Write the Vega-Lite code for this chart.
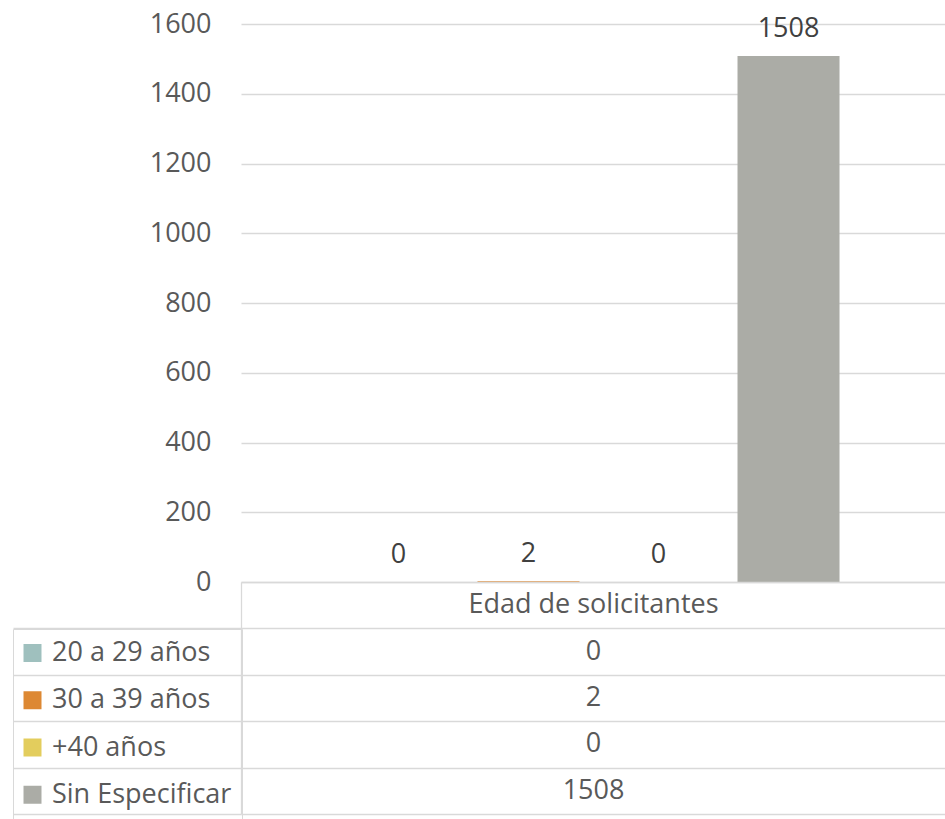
{
  "$schema": "https://vega.github.io/schema/vega-lite/v6.json",
  "autosize": {"type": "pad"},
  "padding": {"left": 12, "top": 10, "right": 0, "bottom": 0},
  "background": "white",
  "config": {"font": "Open Sans", "view": {"stroke": null}},
  "bounds": "flush",
  "spacing": 0,
  "data": {"values": [
    {"categoria": "Edad de solicitantes", "serie": "20 a 29 años", "valor": 0},
    {"categoria": "Edad de solicitantes", "serie": "30 a 39 años", "valor": 2},
    {"categoria": "Edad de solicitantes", "serie": "+40 años", "valor": 0},
    {"categoria": "Edad de solicitantes", "serie": "Sin Especificar", "valor": 1508}
  ]},
  "vconcat": [
    {
      "width": 705,
      "height": 558,
      "encoding": {
        "x": {"field": "serie", "type": "nominal", "sort": ["20 a 29 años", "30 a 39 años", "+40 años", "Sin Especificar"], "scale": {"paddingInner": 0.2154, "paddingOuter": 0.819}, "axis": null},
        "y": {"field": "valor", "type": "quantitative", "scale": {"domain": [0, 1600], "nice": false},
          "axis": {"values": [0, 200, 400, 600, 800, 1000, 1200, 1400, 1600], "format": "d", "grid": true, "gridColor": "#d9d9d9", "gridWidth": 1.3, "domain": false, "ticks": false, "labelFontSize": 27, "labelColor": "#595959", "labelPadding": 30, "title": null}}
      },
      "layer": [
        {
          "mark": {"type": "bar"},
          "encoding": {
            "color": {"field": "serie", "type": "nominal",
              "scale": {"domain": ["20 a 29 años", "30 a 39 años", "+40 años", "Sin Especificar"], "range": ["#9fc0be", "#dd8833", "#e3cd5d", "#abaca6"]},
              "legend": {"orient": "none", "legendX": -228, "legendY": 605, "title": null, "symbolType": "square", "symbolSize": 324, "symbolStrokeWidth": 0, "symbolOpacity": 1, "symbolOffset": -4.5, "labelFontSize": 27, "labelColor": "#595959", "labelOffset": 6, "labelLimit": 300, "rowPadding": 19.25, "padding": 10.5, "strokeColor": "#d9d9d9"}}
          }
        },
        {
          "mark": {"type": "text", "baseline": "bottom", "dy": -13, "fontSize": 27, "color": "#404040"},
          "encoding": {"text": {"field": "valor", "type": "quantitative"}}
        }
      ]
    },
    {
      "width": 705,
      "height": 232,
      "layer": [
        {
          "transform": [{"aggregate": [{"op": "count", "as": "n"}], "groupby": ["categoria"]}],
          "mark": {"type": "text", "fontSize": 27, "color": "#595959"},
          "encoding": {
            "x": {"field": "categoria", "type": "nominal", "scale": {"paddingInner": 0, "paddingOuter": 0}, "axis": {"orient": "top", "domain": true, "domainColor": "#d9d9d9", "domainWidth": 1.3, "ticks": false, "labels": false, "grid": false, "title": null}},
            "y": {"field": "categoria", "type": "nominal", "scale": {"domain": ["Edad de solicitantes", "20 a 29 años", "30 a 39 años", "+40 años", "Sin Especificar"], "paddingInner": 0, "paddingOuter": 0},
              "axis": {"values": ["20 a 29 años", "30 a 39 años", "+40 años", "Sin Especificar"], "tickBand": "extent", "tickExtra": false, "grid": true, "gridColor": "#d9d9d9", "gridWidth": 1.3, "ticks": true, "tickSize": 228, "tickColor": "#d9d9d9", "tickWidth": 1.3, "labels": false, "domain": true, "domainColor": "#d9d9d9", "domainWidth": 1.3, "title": null}},
            "text": {"field": "categoria", "type": "nominal"}
          }
        },
        {
          "mark": {"type": "text", "fontSize": 27, "color": "#595959"},
          "encoding": {
            "x": {"field": "categoria", "type": "nominal", "axis": {"orient": "top", "domain": true, "domainColor": "#d9d9d9", "domainWidth": 1.3, "ticks": false, "labels": false, "grid": false, "title": null}},
            "y": {"field": "serie", "type": "nominal",
              "axis": {"values": ["20 a 29 años", "30 a 39 años", "+40 años", "Sin Especificar"], "tickBand": "extent", "tickExtra": false, "grid": true, "gridColor": "#d9d9d9", "gridWidth": 1.3, "ticks": true, "tickSize": 228, "tickColor": "#d9d9d9", "tickWidth": 1.3, "labels": false, "domain": true, "domainColor": "#d9d9d9", "domainWidth": 1.3, "title": null}},
            "text": {"field": "valor", "type": "quantitative"}
          }
        }
      ]
    }
  ]
}
